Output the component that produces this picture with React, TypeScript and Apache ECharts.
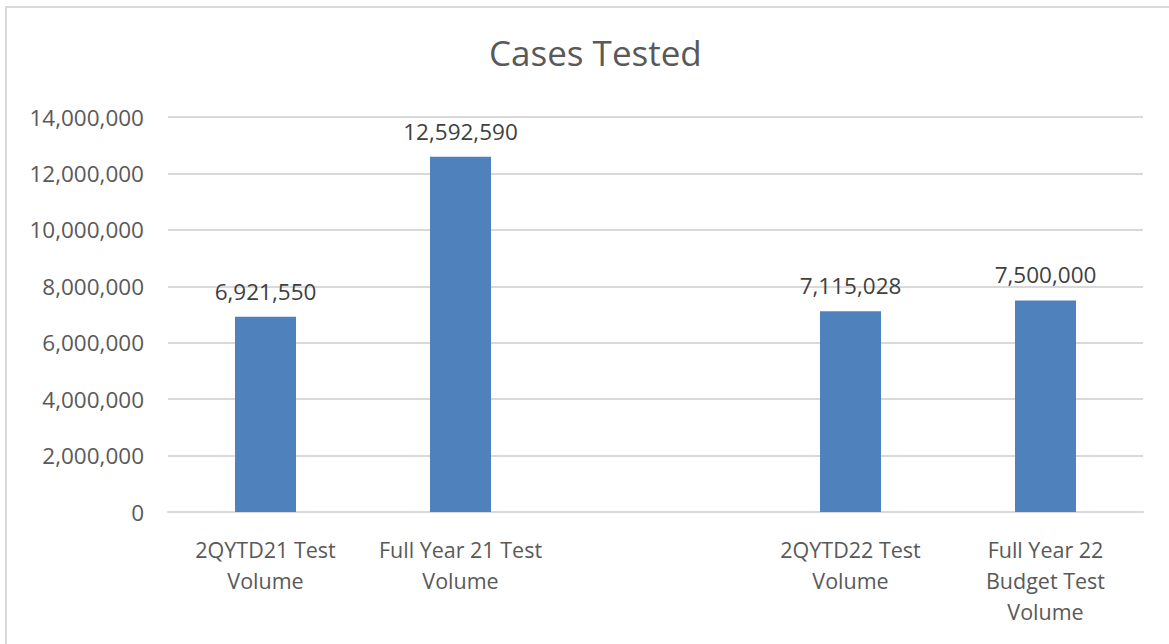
import React, { useEffect, useRef } from "react";
import * as echarts from "echarts";

const categories = [
  "2QYTD21 Test\nVolume",
  "Full Year 21 Test\nVolume",
  "",
  "2QYTD22 Test\nVolume",
  "Full Year 22\nBudget Test\nVolume",
];
const values: (number | null)[] = [6921550, 12592590, null, 7115028, 7500000];
const chartTitle = "Cases Tested";

const FONT = "'Open Sans', 'Noto Sans', sans-serif";

export default function App() {
  const ref = useRef<HTMLDivElement>(null);
  useEffect(() => {
    if (!ref.current) return;
    const chart = echarts.init(ref.current, null, { renderer: "svg" });
    const fmt = (v: number) => v.toLocaleString("en-US");
    chart.setOption({
      animation: false,
      backgroundColor: "#ffffff",
      title: {
        text: chartTitle,
        left: 484,
        top: 30,
        textStyle: { fontFamily: FONT, fontSize: 35, fontWeight: "normal", color: "#595959" },
      },
      graphic: [
        {
          type: "rect",
          shape: { x: 6, y: 7, width: 1200, height: 700 },
          style: { fill: "none", stroke: "#d9d9d9", lineWidth: 2 },
          silent: true,
        },
      ],
      grid: { left: 168, right: 26, top: 117, bottom: 132 },
      xAxis: {
        type: "category",
        data: categories,
        axisLine: { lineStyle: { color: "#d9d9d9", width: 2 } },
        axisTick: { show: false },
        axisLabel: {
          fontFamily: FONT,
          fontSize: 21.5,
          color: "#595959",
          margin: 22,
          lineHeight: 31,
          interval: 0,
        },
      },
      yAxis: {
        type: "value",
        min: 0,
        max: 14000000,
        interval: 2000000,
        axisLine: { show: false },
        axisTick: { show: false },
        splitLine: { lineStyle: { color: "#d9d9d9", width: 2 } },
        axisLabel: {
          fontFamily: FONT,
          fontSize: 22.5,
          color: "#595959",
          margin: 24,
          formatter: (v: number) => fmt(v),
        },
      },
      series: [
        {
          type: "bar",
          data: values,
          barWidth: 61,
          itemStyle: { color: "#4f81bd" },
          label: {
            show: true,
            position: "top",
            distance: 14,
            fontFamily: FONT,
            fontSize: 22.5,
            color: "#404040",
            formatter: (p: any) => (p.value == null ? "" : fmt(p.value)),
          },
        },
      ],
    });
    return () => chart.dispose();
  }, []);
  return (
    <div
      ref={ref}
      style={{ position: "fixed", left: 0, top: 0, width: 1169, height: 644 }}
    />
  );
}
